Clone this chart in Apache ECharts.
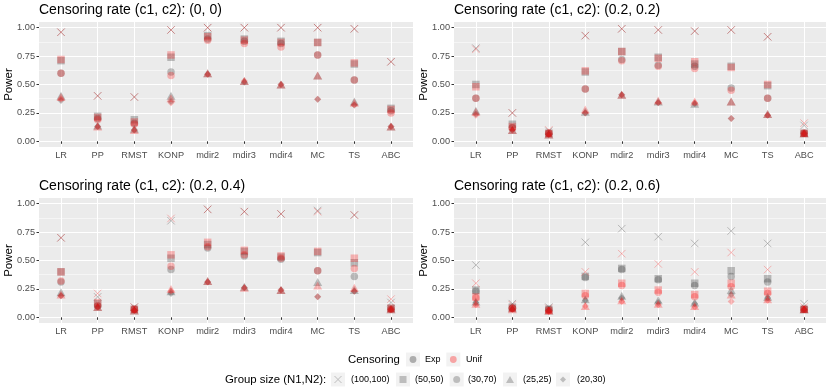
<!DOCTYPE html>
<html>
<head>
<meta charset="utf-8">
<script src="https://cdn.jsdelivr.net/npm/echarts@6/dist/echarts.min.js"></script>
<style>
  html, body { margin: 0; padding: 0; background: #fff; }
  #main { width: 830px; height: 388px; }
</style>
</head>
<body>
<div id="main"></div>
<script>
// categories / labels
var methods = ['LR', 'PP', 'RMST', 'KONP', 'mdir2', 'mdir3', 'mdir4', 'MC', 'TS', 'ABC'];
var groupSizes = ['(100,100)', '(50,50)', '(30,70)', '(25,25)', '(20,30)'];
var censorTypes = ['Exp', 'Unif'];
var panelTitles = [
  'Censoring rate (c1, c2): (0, 0)',
  'Censoring rate (c1, c2): (0.2, 0.2)',
  'Censoring rate (c1, c2): (0.2, 0.4)',
  'Censoring rate (c1, c2): (0.2, 0.6)'
];
var yTicks = [0, 0.25, 0.5, 0.75, 1];
var yMinorTicks = [0.125, 0.375, 0.625, 0.875];

// power values, one row per group size (same order as groupSizes)
var exp_0_0 = [
  [0.96, 0.40, 0.39, 0.98, 1.00, 1.00, 1.00, 1.00, 0.99, 0.70],
  [0.71, 0.22, 0.19, 0.74, 0.93, 0.90, 0.88, 0.87, 0.68, 0.29],
  [0.60, 0.20, 0.16, 0.61, 0.90, 0.88, 0.86, 0.76, 0.54, 0.27],
  [0.40, 0.14, 0.11, 0.40, 0.60, 0.53, 0.50, 0.58, 0.35, 0.13],
  [0.36, 0.13, 0.10, 0.35, 0.59, 0.52, 0.50, 0.37, 0.32, 0.13]
];
var unif_0_0 = [
  [0.96, 0.40, 0.39, 0.98, 1.00, 1.00, 1.00, 1.00, 0.99, 0.70],
  [0.72, 0.21, 0.17, 0.76, 0.92, 0.89, 0.87, 0.87, 0.69, 0.28],
  [0.60, 0.19, 0.15, 0.58, 0.89, 0.86, 0.83, 0.76, 0.54, 0.25],
  [0.39, 0.13, 0.10, 0.38, 0.60, 0.53, 0.50, 0.58, 0.34, 0.13],
  [0.37, 0.13, 0.10, 0.34, 0.59, 0.53, 0.50, 0.37, 0.32, 0.13]
];
var exp_02_02 = [
  [0.82, 0.25, 0.09, 0.93, 0.99, 0.98, 0.97, 0.98, 0.92, 0.14],
  [0.50, 0.15, 0.07, 0.61, 0.79, 0.74, 0.68, 0.66, 0.49, 0.07],
  [0.38, 0.12, 0.07, 0.46, 0.72, 0.67, 0.66, 0.47, 0.38, 0.07],
  [0.27, 0.10, 0.06, 0.26, 0.41, 0.35, 0.33, 0.35, 0.24, 0.07],
  [0.24, 0.10, 0.06, 0.25, 0.41, 0.34, 0.33, 0.20, 0.23, 0.07]
];
var unif_02_02 = [
  [0.81, 0.25, 0.10, 0.93, 0.99, 0.98, 0.97, 0.98, 0.92, 0.16],
  [0.48, 0.13, 0.07, 0.62, 0.79, 0.73, 0.70, 0.65, 0.50, 0.07],
  [0.38, 0.12, 0.07, 0.46, 0.71, 0.66, 0.64, 0.45, 0.38, 0.07],
  [0.26, 0.10, 0.06, 0.28, 0.41, 0.36, 0.35, 0.35, 0.24, 0.07],
  [0.23, 0.10, 0.06, 0.25, 0.41, 0.34, 0.34, 0.20, 0.23, 0.07]
];
var exp_02_04 = [
  [0.70, 0.18, 0.09, 0.85, 0.95, 0.93, 0.91, 0.94, 0.90, 0.13],
  [0.40, 0.12, 0.07, 0.52, 0.64, 0.58, 0.53, 0.57, 0.48, 0.08],
  [0.31, 0.10, 0.07, 0.42, 0.61, 0.54, 0.51, 0.41, 0.36, 0.07],
  [0.22, 0.09, 0.06, 0.23, 0.32, 0.27, 0.24, 0.31, 0.24, 0.07],
  [0.19, 0.09, 0.06, 0.21, 0.31, 0.26, 0.24, 0.18, 0.23, 0.07]
];
var unif_02_04 = [
  [0.70, 0.21, 0.09, 0.87, 0.95, 0.93, 0.91, 0.93, 0.90, 0.16],
  [0.40, 0.13, 0.07, 0.55, 0.66, 0.59, 0.54, 0.58, 0.52, 0.08],
  [0.32, 0.10, 0.07, 0.45, 0.62, 0.55, 0.52, 0.41, 0.43, 0.07],
  [0.20, 0.09, 0.06, 0.25, 0.32, 0.26, 0.24, 0.28, 0.26, 0.07],
  [0.19, 0.09, 0.06, 0.23, 0.31, 0.26, 0.24, 0.18, 0.23, 0.07]
];
var exp_02_06 = [
  [0.46, 0.12, 0.09, 0.66, 0.78, 0.71, 0.65, 0.76, 0.65, 0.12],
  [0.24, 0.09, 0.07, 0.36, 0.43, 0.34, 0.30, 0.41, 0.34, 0.07],
  [0.23, 0.08, 0.07, 0.35, 0.42, 0.33, 0.28, 0.36, 0.31, 0.07],
  [0.14, 0.08, 0.06, 0.16, 0.19, 0.15, 0.13, 0.24, 0.18, 0.07],
  [0.13, 0.07, 0.06, 0.15, 0.17, 0.13, 0.12, 0.20, 0.17, 0.07]
];
var unif_02_06 = [
  [0.30, 0.11, 0.08, 0.40, 0.56, 0.47, 0.40, 0.57, 0.42, 0.09],
  [0.18, 0.08, 0.06, 0.21, 0.30, 0.24, 0.20, 0.30, 0.23, 0.07],
  [0.17, 0.08, 0.06, 0.19, 0.28, 0.22, 0.18, 0.27, 0.21, 0.07],
  [0.12, 0.07, 0.06, 0.10, 0.15, 0.12, 0.10, 0.20, 0.16, 0.07],
  [0.11, 0.07, 0.05, 0.10, 0.14, 0.11, 0.09, 0.14, 0.15, 0.07]
];

var panels = [
  [exp_0_0, unif_0_0],
  [exp_02_02, unif_02_02],
  [exp_02_04, unif_02_04],
  [exp_02_06, unif_02_06]
];

var FONT = '"Liberation Sans", Arial, sans-serif';
var censorColors = ['rgba(60,60,60,0.38)', 'rgba(255,0,0,0.32)'];
var crossPath = 'path://M0,0L10,10M0,10L10,0';
var shapeSymbols = [crossPath, 'rect', 'circle', 'triangle', 'diamond'];
var shapeSizes = [7.5, 7.5, 7.5, [9, 8], 7];

// facet layout (2 x 2)
var grids = [
  { left: 39, top: 22, width: 374, height: 125 },
  { left: 454, top: 22, width: 372, height: 125 },
  { left: 39, top: 198, width: 374, height: 125 },
  { left: 454, top: 198, width: 372, height: 125 }
];
var catPos = methods.map(function (m, i) { return i + 1; });

var myChart = echarts.init(document.getElementById('main'));

var option = {
  animation: false,
  backgroundColor: '#fff',
  title: [],
  grid: [],
  xAxis: [],
  yAxis: [],
  series: [],
  graphic: []
};

grids.forEach(function (g, p) {
  option.grid.push({
    left: g.left, top: g.top, width: g.width, height: g.height,
    show: true, backgroundColor: '#ebebeb', borderWidth: 0
  });
  option.title.push({
    text: panelTitles[p],
    left: g.left, top: g.top - 19, padding: 0,
    textStyle: { fontFamily: FONT, fontSize: 14, fontWeight: 'normal', color: '#000' }
  });
  option.xAxis.push({
    type: 'value', gridIndex: p, min: 0.4, max: 10.6,
    axisLine: { show: false },
    axisTick: { show: true, length: 2.5, lineStyle: { color: '#333', width: 1 }, customValues: catPos },
    axisLabel: {
      customValues: catPos, margin: 4, color: '#4d4d4d', fontFamily: FONT, fontSize: 9.2,
      formatter: function (v) { return methods[Math.round(v) - 1]; }
    },
    splitLine: { show: true, lineStyle: { color: '#fff', width: 1 } }
  });
});

// major y axes first (index = panel), then minor ones for the thin grid lines
grids.forEach(function (g, p) {
  option.yAxis.push({
    type: 'value', gridIndex: p, min: -0.05, max: 1.05,
    name: 'Power', nameLocation: 'middle', nameGap: 24, nameMoveOverlap: false,
    nameTextStyle: { fontFamily: FONT, fontSize: 11.5, color: '#000' },
    axisLine: { show: false },
    axisTick: { show: true, length: 2.5, lineStyle: { color: '#333', width: 1 }, customValues: yTicks },
    axisLabel: {
      customValues: yTicks, margin: 4, color: '#4d4d4d', fontFamily: FONT, fontSize: 9.2,
      formatter: function (v) { return v.toFixed(2); }
    },
    splitLine: { show: true, lineStyle: { color: '#fff', width: 1 } }
  });
});
grids.forEach(function (g, p) {
  option.yAxis.push({
    type: 'value', gridIndex: p, min: -0.05, max: 1.05, position: 'left',
    axisLine: { show: false },
    axisTick: { show: false, customValues: yMinorTicks },
    axisLabel: { show: false, customValues: yMinorTicks },
    splitLine: { show: true, lineStyle: { color: '#fff', width: 0.5 } }
  });
});

// points: panel x censoring x group size
panels.forEach(function (pair, p) {
  pair.forEach(function (rows, c) {
    rows.forEach(function (vals, g) {
      var isCross = g === 0;
      option.series.push({
        name: censorTypes[c] + ' ' + groupSizes[g],
        type: 'scatter',
        xAxisIndex: p, yAxisIndex: p,
        silent: true,
        symbol: shapeSymbols[g],
        symbolSize: shapeSizes[g],
        itemStyle: isCross
          ? { color: 'rgba(0,0,0,0)', borderColor: censorColors[c], borderWidth: 1 }
          : { color: censorColors[c], borderWidth: 0 },
        data: vals.map(function (v, i) { return [catPos[i], v]; })
      });
    });
  });
});

// legend drawn by hand (two rows, ggplot style)
var row1 = 359.5, row2 = 379.5;
var keyFill = '#f2f2f2';
var legendKeyColors = ['rgba(60,60,60,0.38)', 'rgba(255,0,0,0.32)'];
var shapeKeyColor = '#bdbdbd';
function txt(x, y, s, size) {
  return { type: 'text', x: x, y: y, silent: true,
    style: { text: s, fill: '#000', fontFamily: FONT, fontSize: size, verticalAlign: 'middle' } };
}
function keyBox(cx, cy) {
  return { type: 'rect', silent: true, shape: { x: cx - 7, y: cy - 7, width: 14, height: 14 }, style: { fill: keyFill } };
}
var G = option.graphic;
G.push(txt(348, row1, 'Censoring', 11.4));
[[413, 425], [453.3, 466]].forEach(function (k, c) {
  G.push(keyBox(k[0], row1));
  G.push({ type: 'circle', silent: true, shape: { cx: k[0], cy: row1, r: 3.4 }, style: { fill: legendKeyColors[c] } });
  G.push(txt(k[1], row1, censorTypes[c], 9));
});

G.push(txt(225, row2, 'Group size (N1,N2):', 11.4));
var shapeKeys = [[338, 351], [403, 415], [456.7, 468], [510, 523], [563, 577]];
shapeKeys.forEach(function (k, g) {
  var cx = k[0], cy = row2;
  G.push(keyBox(cx, cy));
  if (g === 0) {
    G.push({ type: 'polyline', silent: true, shape: { points: [[cx - 3.5, cy - 3.5], [cx + 3.5, cy + 3.5]] }, style: { stroke: shapeKeyColor, lineWidth: 1 } });
    G.push({ type: 'polyline', silent: true, shape: { points: [[cx - 3.5, cy + 3.5], [cx + 3.5, cy - 3.5]] }, style: { stroke: shapeKeyColor, lineWidth: 1 } });
  } else if (g === 1) {
    G.push({ type: 'rect', silent: true, shape: { x: cx - 3.5, y: cy - 3.5, width: 7, height: 7 }, style: { fill: shapeKeyColor } });
  } else if (g === 2) {
    G.push({ type: 'circle', silent: true, shape: { cx: cx, cy: cy, r: 3.5 }, style: { fill: shapeKeyColor } });
  } else if (g === 3) {
    G.push({ type: 'polygon', silent: true, shape: { points: [[cx, cy - 3.5], [cx + 4, cy + 3.5], [cx - 4, cy + 3.5]] }, style: { fill: shapeKeyColor } });
  } else {
    G.push({ type: 'polygon', silent: true, shape: { points: [[cx, cy - 3], [cx + 3, cy], [cx, cy + 3], [cx - 3, cy]] }, style: { fill: shapeKeyColor } });
  }
  G.push(txt(k[1], row2, groupSizes[g], 9));
});

myChart.setOption(option);
</script>
</body>
</html>
